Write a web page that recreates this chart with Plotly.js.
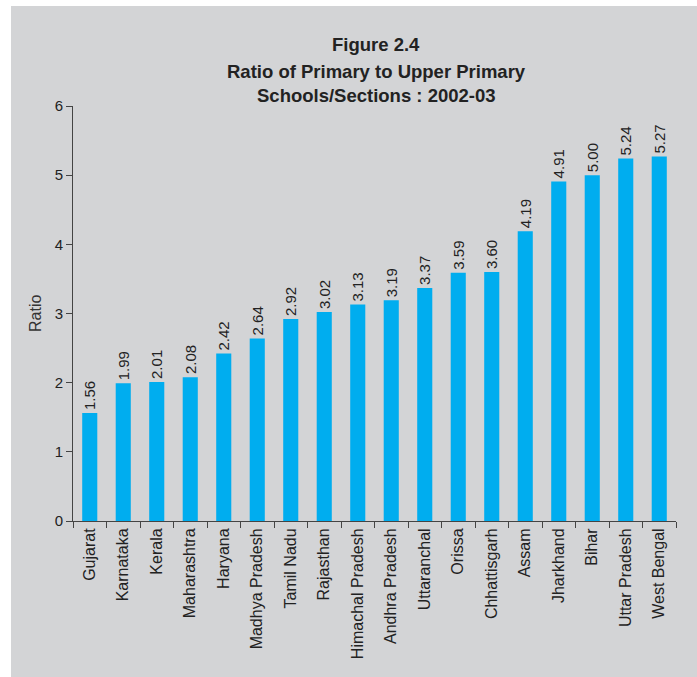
<!DOCTYPE html>
<html>
<head>
<meta charset="utf-8">
<script src="https://cdn.plot.ly/plotly-3.0.1.min.js"></script>
<style>
html,body{margin:0;padding:0;background:#fff;}
#bg{position:absolute;left:11px;top:6px;width:686px;height:671px;background:#d3d4d6;}
#chart{position:absolute;left:0;top:0;width:697px;height:677px;}
</style>
</head>
<body>
<div id="bg"></div>
<div id="chart"></div>
<script>
const states = ["Gujarat","Karnataka","Kerala","Maharashtra","Haryana","Madhya Pradesh","Tamil Nadu","Rajasthan","Himachal Pradesh","Andhra Pradesh","Uttaranchal","Orissa","Chhattisgarh","Assam","Jharkhand","Bihar","Uttar Pradesh","West Bengal"];
const ratios = [1.56,1.99,2.01,2.08,2.42,2.64,2.92,3.02,3.13,3.19,3.37,3.59,3.60,4.19,4.91,5.00,5.24,5.27];
const titleLines = ["Figure 2.4","Ratio of Primary to Upper Primary","Schools/Sections : 2002-03"];
const yTitle = "Ratio";

const font = "Liberation Sans, Arial, sans-serif";
const trace = {
  type: "bar",
  x: states,
  y: ratios,
  width: 0.45,
  marker: {color: "#00adef"},
  text: ratios.map(v => v.toFixed(2)),
  textposition: "outside",
  textangle: -90,
  constraintext: "none",
  cliponaxis: false,
  textfont: {family: font, size: 15, color: "#222"},
  hoverinfo: "x+y"
};
const titleY = [45, 71, 96];
const annotations = titleLines.map((t, i) => ({
  text: "<b>" + t + "</b>",
  xref: "paper", yref: "paper",
  x: 0.503, y: (521 - titleY[i]) / 415,
  xanchor: "center", yanchor: "middle",
  showarrow: false,
  font: {family: font, size: 18.5, color: "#222"}
}));
annotations.push({
  text: yTitle, xref: "paper", yref: "paper",
  x: (35 - 73) / 603, y: (521 - 314) / 415,
  xanchor: "center", yanchor: "middle", textangle: -90,
  showarrow: false, font: {family: font, size: 16, color: "#333"}
});
const layout = {
  width: 697, height: 677,
  margin: {l: 73, r: 21, t: 106, b: 156, pad: 0},
  paper_bgcolor: "rgba(0,0,0,0)",
  plot_bgcolor: "rgba(0,0,0,0)",
  showlegend: false,
  xaxis: {
    type: "category",
    tickson: "boundaries",
    ticks: "outside", ticklen: 6, tickcolor: "#444", tickwidth: 1,
    showline: true, linecolor: "#444", linewidth: 1,
    showgrid: false, zeroline: false,
    tickangle: -90,
    tickfont: {family: font, size: 16, color: "#222"}
  },
  yaxis: {
    range: [0, 6], dtick: 1,
    ticks: "outside", ticklen: 6, tickcolor: "#444", tickwidth: 1,
    showline: true, linecolor: "#444", linewidth: 1,
    showgrid: false, zeroline: false,
    tickfont: {family: font, size: 15, color: "#222"}
  },
  annotations: annotations
};
Plotly.newPlot("chart", [trace], layout, {displayModeBar: false, staticPlot: true});
</script>
</body>
</html>
